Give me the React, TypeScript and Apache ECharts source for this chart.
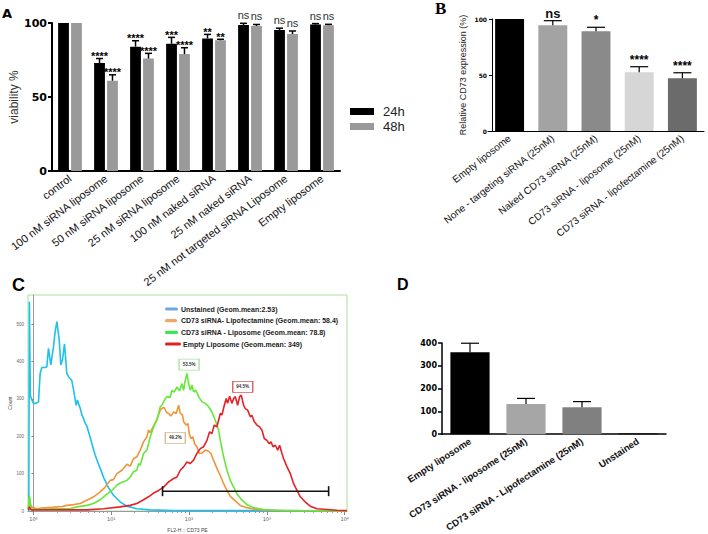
import React, { useEffect, useRef } from 'react';
import * as echarts from 'echarts';

const FONT = "'Liberation Sans', Arial, sans-serif";
const WIDE = "'DejaVu Sans', Verdana, sans-serif";

// ---------- Panel A : viability ----------
const aCategories = ['control', '100 nM siRNA liposome', '50 nM siRNA liposome', '25 nM siRNA liposome', '100 nM naked siRNA', '25 nM naked siRNA', '25 nM not targeted siRNA Liposome', 'Empty liposome'];
const a24 = [100, 73, 84, 86, 89.6, 98.6, 95.3, 99];
const a24Err = [0, 3, 4, 4.3, 2.7, 1.2, 1.2, 0.6];
const a48 = [100, 61, 76, 79, 88.3, 98, 92.6, 98.5];
const a48Err = [0, 4, 3.5, 4.3, 0.7, 1, 2, 0.6];
const a24Sig = ['', '****', '****', '***', '**', 'ns', 'ns', 'ns'];
const a48Sig = ['', '****', '****', '****', '**', 'ns', 'ns', 'ns'];
const aTicks = [0, 50, 100];

// ---------- Panel B : relative CD73 expression ----------
const bCategories = ['Empty liposome', 'None - targeting siRNA (25nM)', 'Naked CD73 siRNA (25nM)', 'CD73 siRNA - liposome (25nM)', 'CD73 siRNA - lipofectamine (25nM)'];
const bValues = [100, 94.4, 89, 52.4, 47];
const bErr = [0, 4.1, 3.6, 5, 5];
const bSig = ['', 'ns', '*', '****', '****'];
const bColors = ['#000000', '#a3a3a3', '#8a8a8a', '#d6d6d6', '#6b6b6b'];

// ---------- Panel C : flow cytometry histogram (x = log10 FL2-H, y = count) ----------
const cNames = ['Unstained (Geom.mean:2.53)', 'CD73 siRNA- Lipofectamine (Geom.mean: 58.4)', 'CD73 siRNA - Liposome (Geom.mean: 78.8)', 'Empty Liposome (Geom.mean: 349)'];
const cLegendColors = ['#6fa8dc', '#eba86c', '#3fe35a', '#dd2020'];
const cCurveColors = ['#1fc0ec', '#f0953a', '#66e83a', '#e52228'];
const unstainedCurve = [[-0.06, 0], [-0.052, 560], [-0.04, 310], [-0.025, 300], [0, 288], [0.035, 288], [0.065, 292], [0.086, 368], [0.108, 384], [0.15, 384], [0.172, 386], [0.193, 435], [0.223, 391], [0.258, 440], [0.279, 480], [0.301, 507], [0.331, 458], [0.352, 391], [0.373, 404], [0.399, 447], [0.429, 368], [0.459, 357], [0.493, 349], [0.515, 324], [0.549, 283], [0.566, 297], [0.579, 288], [0.601, 275], [0.622, 258], [0.645, 246], [0.665, 235], [0.685, 228], [0.708, 212], [0.73, 196], [0.751, 180], [0.793, 150], [0.836, 125], [0.87, 108], [0.901, 90], [0.965, 62], [1.029, 42], [1.115, 24], [1.201, 13], [1.329, 6], [1.5, 3], [1.8, 1], [3.0, 1], [4.03, 0]];
const lipofectamineCurve = [[-0.065, 5], [-0.051, 33], [-0.035, 15], [-0.021, 11], [0.043, 6], [0.1, 8], [0.172, 9], [0.24, 10], [0.301, 11], [0.37, 12], [0.429, 15], [0.515, 17], [0.601, 20], [0.686, 29], [0.772, 38], [0.858, 51], [0.922, 64], [0.986, 82], [1.029, 84], [1.072, 100], [1.137, 109], [1.201, 125], [1.244, 120], [1.286, 140], [1.329, 145], [1.372, 163], [1.415, 185], [1.458, 198], [1.479, 216], [1.501, 210], [1.544, 228], [1.587, 245], [1.63, 270], [1.651, 275], [1.681, 277], [1.707, 265], [1.737, 261], [1.767, 254], [1.801, 265], [1.835, 261], [1.866, 283], [1.887, 262], [1.917, 256], [1.93, 239], [1.964, 230], [1.986, 234], [2.003, 207], [2.024, 194], [2.05, 198], [2.071, 180], [2.101, 172], [2.131, 154], [2.166, 155], [2.209, 163], [2.252, 160], [2.281, 154], [2.315, 136], [2.358, 114], [2.401, 95], [2.444, 73], [2.487, 55], [2.53, 39], [2.594, 27], [2.658, 15], [2.744, 9], [2.873, 4], [3.044, 2], [3.216, 1], [4.03, 0]];
const liposomeCurve = [[-0.065, 5], [-0.051, 42], [-0.035, 12], [-0.021, 6], [0.1, 5], [0.25, 6], [0.35, 6], [0.472, 6], [0.558, 11], [0.686, 15], [0.772, 20], [0.858, 30], [0.944, 45], [1.008, 55], [1.072, 69], [1.115, 75], [1.158, 78], [1.201, 82], [1.244, 91], [1.286, 105], [1.329, 109], [1.351, 127], [1.372, 122], [1.415, 154], [1.458, 163], [1.501, 198], [1.544, 225], [1.587, 243], [1.63, 279], [1.651, 283], [1.673, 292], [1.694, 300], [1.715, 306], [1.758, 304], [1.78, 323], [1.81, 318], [1.844, 332], [1.878, 322], [1.908, 341], [1.93, 323], [1.951, 350], [1.973, 368], [1.994, 341], [2.016, 323], [2.037, 337], [2.058, 319], [2.088, 323], [2.123, 306], [2.166, 292], [2.209, 288], [2.252, 279], [2.294, 265], [2.337, 243], [2.38, 216], [2.41, 180], [2.444, 145], [2.487, 109], [2.53, 82], [2.573, 64], [2.616, 46], [2.68, 29], [2.744, 17], [2.83, 9], [2.959, 4], [3.13, 2], [3.43, 1], [4.03, 0]];
const emptyCurve = [[-0.065, 3], [-0.051, 11], [-0.035, 4], [-0.021, 3], [0.3, 3], [0.686, 3], [0.901, 6], [1.115, 11], [1.244, 15], [1.329, 20], [1.415, 30], [1.479, 38], [1.544, 48], [1.608, 55], [1.673, 64], [1.737, 78], [1.802, 87], [1.844, 91], [1.887, 109], [1.93, 118], [1.973, 131], [2.016, 127], [2.058, 136], [2.101, 154], [2.144, 167], [2.187, 172], [2.23, 189], [2.264, 212], [2.294, 207], [2.324, 230], [2.358, 225], [2.38, 243], [2.401, 261], [2.423, 257], [2.453, 283], [2.478, 301], [2.495, 288], [2.521, 307], [2.551, 288], [2.573, 301], [2.594, 306], [2.624, 283], [2.65, 306], [2.671, 310], [2.701, 283], [2.723, 274], [2.753, 270], [2.787, 252], [2.808, 256], [2.838, 239], [2.873, 230], [2.907, 225], [2.937, 216], [2.967, 194], [3.001, 189], [3.031, 180], [3.053, 185], [3.079, 172], [3.109, 176], [3.139, 163], [3.164, 176], [3.194, 154], [3.216, 140], [3.259, 118], [3.302, 100], [3.344, 73], [3.387, 55], [3.43, 38], [3.494, 24], [3.558, 13], [3.644, 6], [3.773, 4], [3.902, 2], [4.03, 1]];
const cCurves = [unstainedCurve, lipofectamineCurve, liposomeCurve, emptyCurve];
const cBoxes = [
  { series: 2, text: '53.5%', at: [2.0, 392], color: '#a6e39a' },
  { series: 3, text: '94.5%', at: [2.69, 332], color: '#d85a5a' },
  { series: 1, text: '49.2%', at: [1.823, 196], color: '#d9b98a' },
];
const cGate = [[1.659, 53], [3.794, 53]];
const cXTicks = [0, 1, 2, 3, 4];
const cXTickLabels = ['10⁰', '10¹', '10²', '10³', '10⁴'];
const cYTicks = [0, 100, 200, 300, 400, 500];

// ---------- Panel D : geometric mean ----------
const dCategories = ['Empty liposome', 'CD73 siRNA - liposome (25nM)', 'CD73 siRNA - Lipofectamine (25nM)', 'Unstained'];
const dValues = [359, 132, 118, 2.53];
const dErr = [40, 25, 25, 0];
const dColors = ['#000000', '#a6a6a6', '#808080', '#000000'];

function errorSeries(name: string, xIdx: number, yIdx: number, values: number[], errs: number[], labels: string[], o: any) {
  return {
    type: 'custom', name, xAxisIndex: xIdx, yAxisIndex: yIdx, z: 5, silent: true,
    data: values.map((v, i) => [i, v, errs[i]]),
    encode: { x: 0, y: 1 },
    renderItem: (params: any, api: any) => {
      const i = api.value(0), v = api.value(1), e = api.value(2);
      const band = api.size([1, 0])[0];
      const base = api.coord([i, v]);
      const top = api.coord([i, v + e]);
      const x = base[0] + o.offset * band;
      const children: any[] = [];
      if (e > 0) {
        children.push({ type: 'line', shape: { x1: x, y1: base[1], x2: x, y2: top[1] }, style: { stroke: '#000', lineWidth: o.lw } });
        children.push({ type: 'line', shape: { x1: x - o.cap / 2, y1: top[1], x2: x + o.cap / 2, y2: top[1] }, style: { stroke: '#000', lineWidth: o.lw } });
      }
      const lab = labels[params.dataIndex];
      if (lab) {
        const ns = lab === 'ns';
        children.push({
          type: 'text', x, y: top[1] + (ns ? o.nsDy : o.starDy),
          style: {
            text: lab, align: 'center', verticalAlign: 'bottom', textAlign: 'center', textVerticalAlign: 'bottom',
            fontFamily: FONT, fontSize: ns ? o.nsSize : o.starSize, fontWeight: ns ? o.nsWeight : 'bold',
            fill: ns ? o.nsColor : '#000',
          },
        });
      }
      return { type: 'group', children };
    },
  };
}

function buildOption(): any {
  const cMinor: number[] = [];
  for (let d = 0; d < 4; d++) for (let k = 2; k <= 9; k++) cMinor.push(d + Math.log10(k));

  const lineSeries = cCurves.map((curve, idx) => {
    const s: any = {
      type: 'line', name: cNames[idx], xAxisIndex: 2, yAxisIndex: 2, data: curve,
      showSymbol: false, symbol: 'none', clip: true, z: 3 + idx,
      lineStyle: { color: cCurveColors[idx], width: 1.6 }, itemStyle: { color: cCurveColors[idx] },
    };
    const boxes = cBoxes.filter(b => b.series === idx);
    if (boxes.length) {
      s.markPoint = {
        silent: true, symbol: 'rect', symbolSize: [20, 11],
        data: boxes.map(b => ({
          coord: b.at, value: b.text,
          itemStyle: { color: '#fff', borderColor: b.color, borderWidth: 1 },
          label: { show: true, position: 'inside', formatter: b.text, fontSize: 4.5, fontWeight: 'bold', color: '#333', fontFamily: FONT },
        })),
      };
    }
    return s;
  });

  const legendRows = [309, 320.7, 332.3, 344];
  const legendTextX = [181, 181, 181, 183];
  const legendLineW = [13, 12, 13, 16];
  const cLegend: any[] = [];
  cNames.forEach((n, i) => {
    cLegend.push({ type: 'rect', shape: { x: 165, y: legendRows[i] - 1.6, width: legendLineW[i], height: 3.2, r: 1.5 }, style: { fill: cLegendColors[i] } });
    cLegend.push({ type: 'text', x: legendTextX[i], y: legendRows[i], style: { text: n, fontFamily: FONT, fontSize: 7, fontWeight: 'bold', fill: '#222', verticalAlign: 'middle', textVerticalAlign: 'middle' } });
  });

  const letters = [
    { text: 'A', x: 2, y: 6.8, size: 13, family: WIDE },
    { text: 'B', x: 435, y: 0.3, size: 17, family: "'Liberation Serif', serif" },
    { text: 'C', x: 12, y: 275.5, size: 18, family: FONT },
    { text: 'D', x: 397, y: 276, size: 16, family: FONT },
  ];

  return {
    animation: false,
    backgroundColor: '#ffffff',
    textStyle: { fontFamily: FONT },
    grid: [
      { left: 52, top: 23, width: 288, height: 148 },
      { left: 488, top: 19, width: 216, height: 112 },
      { left: 28, top: 295, width: 319, height: 216, show: true, borderColor: '#a6e39a', borderWidth: 1, backgroundColor: 'transparent' },
      { left: 442, top: 343, width: 224, height: 94 },
    ],
    legend: [{
      data: ['24h', '48h'], left: 350, top: 105, orient: 'vertical', itemWidth: 24, itemHeight: 7, itemGap: 2, icon: 'rect',
      selectedMode: false, padding: 0,
      textStyle: { fontFamily: FONT, fontSize: 13, color: '#222', lineHeight: 13, padding: [0, 0, 0, 4] },
    }],
    xAxis: [
      {
        type: 'category', gridIndex: 0, data: aCategories,
        axisLine: { lineStyle: { color: '#000', width: 2 } },
        axisTick: { alignWithLabel: true, length: 4, lineStyle: { color: '#000', width: 2 } },
        axisLabel: { interval: 0, rotate: 37, fontSize: 11, color: '#111', margin: 6, fontFamily: FONT },
      },
      {
        type: 'category', gridIndex: 1, data: bCategories,
        axisLine: { lineStyle: { color: '#000', width: 1 } },
        axisTick: { show: false },
        axisLabel: { interval: 0, rotate: 38, fontSize: 10, color: '#111', margin: 6, fontFamily: FONT },
      },
      {
        type: 'value', gridIndex: 2, min: -0.07, max: 4.03, position: 'bottom',
        axisLine: { onZero: false, lineStyle: { color: '#9a9a9a', width: 1 } },
        axisTick: { customValues: cXTicks, length: 4, lineStyle: { color: '#888' } },
        axisLabel: { customValues: cXTicks, formatter: (v: number) => cXTickLabels[Math.round(v)], fontSize: 5, color: '#555', margin: 5, fontFamily: WIDE },
        splitLine: { show: false },
        name: 'FL2-H :: CD73 PE', nameLocation: 'middle', nameGap: 16, nameTextStyle: { fontSize: 5, color: '#444', fontFamily: FONT },
      },
      {
        type: 'value', gridIndex: 2, min: -0.07, max: 4.03, position: 'bottom',
        axisLine: { show: false },
        axisTick: { customValues: cMinor, length: 2, lineStyle: { color: '#999' } },
        axisLabel: { show: false }, splitLine: { show: false },
      },
      {
        type: 'category', gridIndex: 3, data: dCategories,
        axisLine: { lineStyle: { color: '#000', width: 1.5 } },
        axisTick: { alignWithLabel: true, length: 4, lineStyle: { color: '#000', width: 1.5 } },
        axisLabel: { interval: 0, rotate: 33, fontSize: 9.5, fontWeight: 'bold', color: '#111', margin: 6, fontFamily: FONT },
      },
    ],
    yAxis: [
      {
        type: 'value', gridIndex: 0, min: aTicks[0], max: aTicks[2], interval: 50,
        axisLine: { show: true, lineStyle: { color: '#000', width: 2 } },
        axisTick: { show: true, length: 4, lineStyle: { color: '#000', width: 2 } },
        axisLabel: { fontFamily: WIDE, fontWeight: 'bold', fontSize: 11, color: '#000', margin: 5 },
        splitLine: { show: false },
        name: 'viability %', nameLocation: 'middle', nameGap: 21, nameTextStyle: { fontSize: 12, color: '#333', fontFamily: FONT },
      },
      {
        type: 'value', gridIndex: 1, min: 0, max: 100, interval: 50, offset: -4,
        axisLine: { show: true, lineStyle: { color: '#000', width: 1 } },
        axisTick: { show: true, length: 3, lineStyle: { color: '#000', width: 1 } },
        axisLabel: { fontFamily: WIDE, fontWeight: 'bold', fontSize: 6, color: '#000', margin: 5 },
        splitLine: { show: false },
        name: 'Relative CD73 expression (%)', nameLocation: 'middle', nameGap: 25, nameTextStyle: { fontSize: 9, color: '#222', fontFamily: FONT },
      },
      {
        type: 'value', gridIndex: 2, min: 0, max: 578,
        axisLine: { show: true, lineStyle: { color: '#9a9a9a', width: 1 } },
        axisTick: { show: true, customValues: cYTicks, length: 2, lineStyle: { color: '#888' } },
        axisLabel: { customValues: cYTicks, fontSize: 4.5, color: '#666', margin: 4, fontFamily: FONT },
        splitLine: { show: false },
        name: 'Count', nameLocation: 'middle', nameGap: 12, nameTextStyle: { fontSize: 5, color: '#444', fontFamily: FONT },
      },
      {
        type: 'value', gridIndex: 3, min: 0, max: 400, interval: 100,
        axisLine: { show: true, lineStyle: { color: '#000', width: 1.5 } },
        axisTick: { show: true, length: 4, lineStyle: { color: '#000', width: 1.5 } },
        axisLabel: { fontFamily: WIDE, fontWeight: 'bold', fontSize: 8, color: '#000', margin: 5 },
        splitLine: { show: false },
      },
    ],
    series: [
      { type: 'bar', name: '24h', xAxisIndex: 0, yAxisIndex: 0, data: a24, barWidth: '30%', barGap: '20%', itemStyle: { color: '#000' } },
      { type: 'bar', name: '48h', xAxisIndex: 0, yAxisIndex: 0, data: a48, barWidth: '30%', barGap: '20%', itemStyle: { color: '#9a9a9a' } },
      errorSeries('a24err', 0, 0, a24, a24Err, a24Sig, { offset: -0.18, cap: 7, lw: 1.5, starDy: 3, nsDy: -2.5, starSize: 11, nsSize: 11, nsWeight: 'normal', nsColor: '#333' }),
      errorSeries('a48err', 0, 0, a48, a48Err, a48Sig, { offset: 0.18, cap: 7, lw: 1.5, starDy: 3, nsDy: -2.5, starSize: 11, nsSize: 11, nsWeight: 'normal', nsColor: '#333' }),
      { type: 'bar', name: 'B', xAxisIndex: 1, yAxisIndex: 1, barWidth: '67%', data: bValues.map((v, i) => ({ value: v, itemStyle: { color: bColors[i] } })) },
      errorSeries('berr', 1, 1, bValues, bErr, bSig, { offset: 0, cap: 18, lw: 1.2, starDy: -1, nsDy: -1, starSize: 12, nsSize: 13, nsWeight: 'bold', nsColor: '#111' }),
      ...lineSeries,
      {
        type: 'line', name: 'gate', xAxisIndex: 2, yAxisIndex: 2, data: cGate, z: 10,
        symbol: 'rect', symbolSize: [1.6, 10], showSymbol: true,
        lineStyle: { color: '#111', width: 1.5 }, itemStyle: { color: '#111' },
      },
      { type: 'bar', name: 'D', xAxisIndex: 4, yAxisIndex: 3, barWidth: '70%', data: dValues.map((v, i) => ({ value: v, itemStyle: { color: dColors[i] } })) },
      errorSeries('derr', 4, 3, dValues, dErr, ['', '', '', ''], { offset: 0, cap: 18, lw: 1.2, starDy: 0, nsDy: 0, starSize: 10, nsSize: 10, nsWeight: 'bold', nsColor: '#000' }),
    ],
    graphic: [
      ...letters.map(l => ({
        type: 'text', x: l.x, y: l.y, silent: true,
        style: { text: l.text, fontFamily: l.family, fontSize: l.size, fontWeight: 'bold', fill: '#000', verticalAlign: 'top', textVerticalAlign: 'top' },
      })),
      { type: 'group', silent: true, children: cLegend },
    ],
  };
}

export default function App() {
  const ref = useRef<HTMLDivElement>(null);
  useEffect(() => {
    const chart = echarts.init(ref.current as HTMLDivElement, undefined, { renderer: 'svg' });
    chart.setOption(buildOption());
    return () => chart.dispose();
  }, []);
  return <div ref={ref} style={{ position: 'fixed', left: 0, top: 0, width: 708, height: 534, background: '#fff' }} />;
}
